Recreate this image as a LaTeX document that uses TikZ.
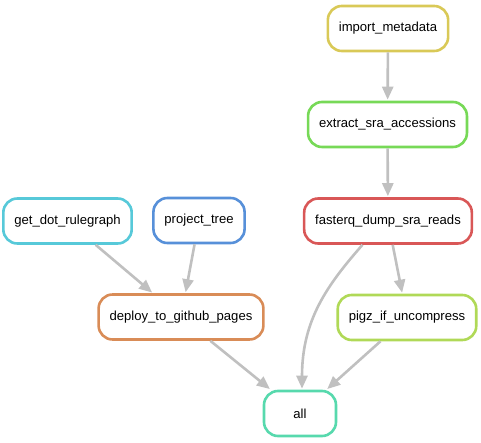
\documentclass[tikz,border=0pt]{standalone}
\usepackage{fontspec}
\setmainfont{Liberation Sans}
\usetikzlibrary{arrows.meta}

% rule colours
\definecolor{cimport}{HTML}{D9C957}
\definecolor{cextract}{HTML}{77D957}
\definecolor{cfasterq}{HTML}{D95757}
\definecolor{cgetdot}{HTML}{57C9D9}
\definecolor{cptree}{HTML}{5790D9}
\definecolor{cdeploy}{HTML}{D98C57}
\definecolor{cpigz}{HTML}{B0D957}
\definecolor{call}{HTML}{57D9AD}
\definecolor{edgegray}{HTML}{C0C0C0}

\tikzset{
  rule/.style={draw=#1, fill=white, line width=2.6pt, rounded corners=14pt,
    rectangle, minimum width=72pt, minimum height=45pt, inner xsep=11pt,
    font=\fontsize{13.1pt}{15pt}\selectfont},
  dep/.style={draw=edgegray, line width=2.6pt,
    -{Triangle[length=13pt,width=11pt]}, shorten >=1pt},
}

\begin{document}
\begin{tikzpicture}[x=1pt, y=-1pt]
  \useasboundingbox (0,0) rectangle (481,443);

  % rule nodes
  \node[rule=cimport]  (imp)    at (388,28.5)   {import\_metadata};
  \node[rule=cextract] (ext)    at (387.5,124.5) {extract\_sra\_accessions};
  \node[rule=cfasterq] (fdump)  at (388,221)    {fasterq\_dump\_sra\_reads};
  \node[rule=cgetdot]  (getdot) at (67.5,221)   {get\_dot\_rulegraph};
  \node[rule=cptree]   (ptree)  at (199,220.5)  {project\_tree};
  \node[rule=cdeploy]  (deploy) at (181,317)    {deploy\_to\_github\_pages};
  \node[rule=cpigz]    (pigz)   at (407,317.5)  {pigz\_if\_uncompress};
  \node[rule=call]     (all)    at (300,413.5)  {all};

  % dependencies
  \draw[dep] (imp) -- (ext);
  \draw[dep] (ext) -- (fdump);
  \draw[dep] (getdot) -- (deploy);
  \draw[dep] (ptree) -- (deploy);
  \draw[dep] (fdump) -- (pigz);
  \draw[dep] (fdump.223) .. controls +(-35,40) and +(0,-70) .. ([xshift=2pt]all.north);
  \draw[dep] (pigz) -- (all);
  \draw[dep] (deploy) -- (all);
\end{tikzpicture}
\end{document}
